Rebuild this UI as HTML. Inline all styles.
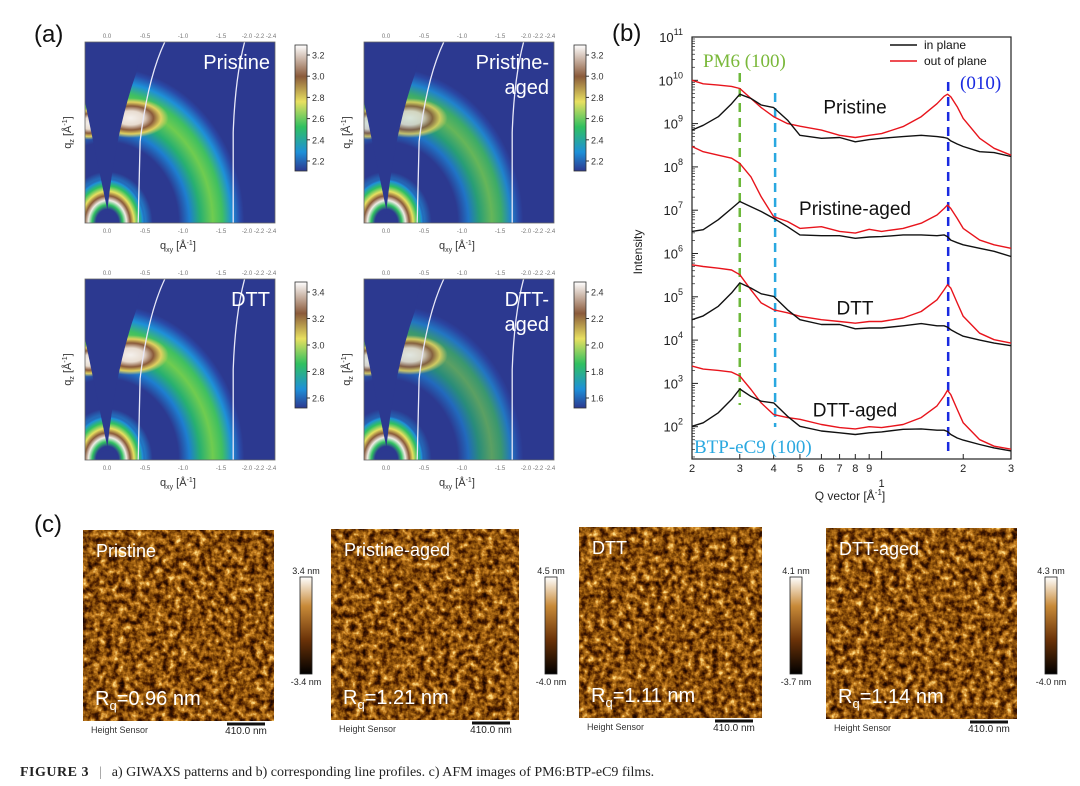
<!DOCTYPE html>
<html><head><meta charset="utf-8"><style>
html,body{margin:0;padding:0;background:#fff;width:1080px;height:786px;overflow:hidden}
svg{display:block;font-family:"Liberation Sans",sans-serif}
</style></head><body>
<svg id="fig" width="1080" height="786" viewBox="0 0 1080 786" xmlns="http://www.w3.org/2000/svg">
<defs>
<radialGradient id="ringGrad" cx="0.5" cy="0.5" r="0.5">
<stop offset="0" stop-color="#f0ece6"/><stop offset="0.08" stop-color="#8a5a3a"/><stop offset="0.13" stop-color="#e8e060"/>
<stop offset="0.19" stop-color="#30c060"/><stop offset="0.26" stop-color="#1e90d8"/><stop offset="0.33" stop-color="#2c3990"/>
<stop offset="0.52" stop-color="#2c3990"/><stop offset="0.6" stop-color="#1e7ed0"/><stop offset="0.68" stop-color="#28b070"/>
<stop offset="0.77" stop-color="#70cc50"/><stop offset="0.84" stop-color="#40c060"/><stop offset="0.91" stop-color="#1e90d8"/>
<stop offset="0.97" stop-color="#2a4aa8"/><stop offset="1" stop-color="#2c3990"/>
</radialGradient>
<radialGradient id="originGrad" cx="0.5" cy="0.5" r="0.5">
<stop offset="0" stop-color="#2c3990"/><stop offset="0.3" stop-color="#2c3990"/><stop offset="0.4" stop-color="#30c060"/>
<stop offset="0.5" stop-color="#f0ece6"/><stop offset="0.6" stop-color="#8a5a3a"/><stop offset="0.7" stop-color="#e8e060"/>
<stop offset="0.82" stop-color="#30c060"/><stop offset="0.93" stop-color="#1e90d8"/><stop offset="1" stop-color="#2c3990" stop-opacity="0"/>
</radialGradient>
<radialGradient id="hotGrad" cx="0.5" cy="0.5" r="0.5">
<stop offset="0" stop-color="#f4f0ec"/><stop offset="0.35" stop-color="#e8dcd0"/><stop offset="0.6" stop-color="#8a5a3a"/>
<stop offset="0.8" stop-color="#e0d060"/><stop offset="1" stop-color="#e0d060" stop-opacity="0"/>
</radialGradient>
<linearGradient id="cbGiwaxs" x1="0" y1="1" x2="0" y2="0">
<stop offset="0" stop-color="#2c3990"/><stop offset="0.15" stop-color="#1e90d8"/><stop offset="0.35" stop-color="#30c060"/>
<stop offset="0.55" stop-color="#e8e060"/><stop offset="0.75" stop-color="#8a5a3a"/><stop offset="1" stop-color="#ffffff"/>
</linearGradient>
<linearGradient id="cbAfm" x1="0" y1="1" x2="0" y2="0">
<stop offset="0" stop-color="#000"/><stop offset="0.35" stop-color="#6a3208"/><stop offset="0.7" stop-color="#c88a38"/><stop offset="1" stop-color="#fff"/>
</linearGradient>
<filter id="afmTex" x="0" y="0" width="100%" height="100%" color-interpolation-filters="sRGB">
<feTurbulence type="fractalNoise" baseFrequency="0.16" numOctaves="3" seed="3"/>
<feColorMatrix type="matrix" values="1 0 0 0 0  1 0 0 0 0  1 0 0 0 0  0 0 0 0 1"/>
<feComponentTransfer>
<feFuncR type="table" tableValues="0.1 0.1 0.3 0.55 0.8 1 1"/>
<feFuncG type="table" tableValues="0.02 0.02 0.12 0.32 0.52 0.85 0.9"/>
<feFuncB type="table" tableValues="0 0 0 0.04 0.14 0.5 0.6"/>
<feFuncA type="table" tableValues="1 1"/>
</feComponentTransfer>
</filter>
</defs>
<g id="panelA"></g>
<g id="panelB"></g>
<g id="panelC"></g>
<text x="20" y="776" font-family="Liberation Serif,serif" font-size="14" fill="#222"><tspan font-weight="bold" letter-spacing="0.5">FIGURE 3</tspan><tspan dx="10" fill="#888">|</tspan><tspan dx="10">a) GIWAXS patterns and b) corresponding line profiles. c) AFM images of PM6:BTP-eC9 films.</tspan></text>
</svg>
<script>
// ---- Panel b data ----
const qValues = [0.2,0.22,0.25,0.28,0.3,0.33,0.36,0.4,0.45,0.5,0.6,0.7,0.8,0.9,1.0,1.2,1.4,1.6,1.7,1.75,1.8,1.9,2.0,2.3,2.6,3.0];
const pristineIn = [8.85,8.96,9.16,9.46,9.68,9.58,9.43,9.37,9.08,8.73,8.66,8.68,8.58,8.63,8.66,8.70,8.73,8.70,8.68,8.66,8.60,8.53,8.47,8.35,8.33,8.24];
const pristineOut = [10.0,9.92,9.89,9.86,9.81,9.58,9.37,9.16,9.0,8.94,8.85,8.73,8.68,8.73,8.77,8.93,9.16,9.46,9.63,9.68,9.62,9.39,9.12,8.66,8.43,8.27];
const agedIn = [6.51,6.55,6.78,7.04,7.2,7.08,6.97,6.81,6.62,6.43,6.41,6.41,6.35,6.38,6.39,6.43,6.43,6.41,6.43,6.39,6.31,6.25,6.20,6.12,6.05,5.93];
const agedOut = [8.47,8.35,8.27,8.20,8.08,7.77,7.31,6.85,6.74,6.58,6.62,6.51,6.47,6.56,6.51,6.58,6.70,6.89,7.04,7.12,7.04,6.81,6.58,6.31,6.20,6.12];
const dttIn = [4.47,4.56,4.78,5.09,5.32,5.2,5.07,5.01,4.70,4.47,4.36,4.36,4.26,4.28,4.28,4.33,4.38,4.33,4.33,4.30,4.24,4.16,4.09,4.0,3.93,3.87];
const dttOut = [5.74,5.70,5.66,5.62,5.51,5.16,4.86,4.70,4.63,4.55,4.47,4.43,4.39,4.43,4.43,4.51,4.66,4.93,5.16,5.28,5.20,4.86,4.55,4.16,4.01,3.93];
const dttAgedIn = [2.01,2.09,2.32,2.63,2.87,2.70,2.59,2.55,2.24,2.01,1.90,1.86,1.82,1.86,1.88,1.94,1.95,1.92,1.92,1.89,1.82,1.74,1.69,1.59,1.51,1.44];
const dttAgedOut = [3.40,3.33,3.30,3.26,3.17,2.86,2.55,2.28,2.21,2.17,2.05,1.98,1.95,2.0,1.98,2.05,2.21,2.48,2.71,2.84,2.74,2.40,2.09,1.70,1.55,1.48];
const yDecades = [2,3,4,5,6,7,8,9,10,11];
const xTickValues = [0.2,0.3,0.4,0.5,0.6,0.7,0.8,0.9,2,3];
const xTickLabels = ["2","3","4","5","6","7","8","9","2","3"];
const refLines = [0.3,0.405,1.76];
const sampleLabels = ["Pristine","Pristine-aged","DTT","DTT-aged"];
const sampleLabelLevels = [9.4,7.05,4.75,2.4];

const NS="http://www.w3.org/2000/svg";
function mk(tag,attrs,parent,text){const e=document.createElementNS(NS,tag);for(const k in attrs)e.setAttribute(k,attrs[k]);if(text!==undefined)e.textContent=text;parent.appendChild(e);return e;}

const PX0=692,PX1=1011,PY_TOP=37,PY_BOT=459;
const xs=q=>PX0+(Math.log10(q)-Math.log10(0.2))/(Math.log10(3)-Math.log10(0.2))*(PX1-PX0);
const ys=v=>37+(11-v)*43.3;

const B=document.getElementById('panelB');
let t=mk('text',{x:612,y:41,'font-size':24,fill:'#111'},B,'(b)');


const frame=mk('rect',{x:PX0,y:PY_TOP,width:PX1-PX0,height:PY_BOT-PY_TOP,fill:'none',stroke:'#222','stroke-width':1.2},B);


yDecades.forEach(d=>{
  const y=ys(d);
  const tk=mk('line',{x1:PX0,x2:PX0+6,y1:y,y2:y,stroke:'#222'},B);
  
  
  for(let m=2;m<=9;m++){const ym=ys(d-1+Math.log10(m));if(ym<=PY_BOT)mk('line',{x1:PX0,x2:PX0+3,y1:ym,y2:ym,stroke:'#222','stroke-width':0.7},B);}
  const lb=mk('text',{x:683,y:y+5,'text-anchor':'end','font-size':13,fill:'#222'},B);
  
  
  mk('tspan',{},lb,'10');mk('tspan',{dy:-7,'font-size':9},lb,String(d));
});
const yt=mk('text',{x:0,y:0,transform:'translate(642,252) rotate(-90)','text-anchor':'middle','font-size':12,fill:'#222'},B,'Intensity');


xTickValues.forEach((q,i)=>{
  const x=xs(q);
  const tk=mk('line',{x1:x,x2:x,y1:PY_BOT,y2:PY_BOT-5,stroke:'#222'},B);
  
  
  const lb=mk('text',{x:x,y:PY_BOT+13,'text-anchor':'middle','font-size':11,fill:'#222'},B,xTickLabels[i]);
  
  
});
mk('line',{x1:xs(1),x2:xs(1),y1:PY_BOT,y2:PY_BOT-8,stroke:'#222'},B);
const one=mk('text',{x:xs(1),y:PY_BOT+28,'text-anchor':'middle','font-size':11,fill:'#222'},B,'1');


const xt=mk('text',{x:850,y:500,'text-anchor':'middle','font-size':12,fill:'#222'},B);


mk('tspan',{},xt,'Q vector [Å');mk('tspan',{dy:-5,'font-size':8},xt,'-1');mk('tspan',{dy:5},xt,']');

const refColors=['#6cb83a','#2aa8e0','#1a2ae0'];
const refY=[[73,405],[93,427],[82,453]];
const refNames=['pm6-100-line','btp-ec9-100-line','pi-stacking-010-line'];
refLines.forEach((q,i)=>{
  const l=mk('line',{x1:xs(q),x2:xs(q),y1:refY[i][0],y2:refY[i][1],stroke:refColors[i],'stroke-width':2.5,'stroke-dasharray':'9 6'},B);
  
  
});
const series=[[pristineOut,'#e8141c'],[pristineIn,'#111'],[agedOut,'#e8141c'],[agedIn,'#111'],[dttOut,'#e8141c'],[dttIn,'#111'],[dttAgedOut,'#e8141c'],[dttAgedIn,'#111']];
const seriesNames=['pristine-out-of-plane','pristine-in-plane','pristine-aged-out-of-plane','pristine-aged-in-plane','dtt-out-of-plane','dtt-in-plane','dtt-aged-out-of-plane','dtt-aged-in-plane'];
series.forEach(([vals,col],i)=>{
  let d='';
  vals.forEach((v,j)=>{d+=(j?'L':'M')+xs(qValues[j]).toFixed(1)+' '+ys(v).toFixed(1);});
  const p=mk('path',{d:d,fill:'none',stroke:col,'stroke-width':1.4,'stroke-linejoin':'round'},B);
  
  
});
sampleLabels.forEach((s,i)=>{
  const lb=mk('text',{x:855,y:ys(sampleLabelLevels[i])+7,'text-anchor':'middle','font-size':19,fill:'#111'},B,s);
  
  
});
const a1=mk('text',{x:703,y:67,'font-family':'Liberation Serif,serif','font-size':19,fill:'#7ab83a'},B,'PM6 (100)');


const a2=mk('text',{x:960,y:89,'font-family':'Liberation Serif,serif','font-size':19,fill:'#1a2ae0'},B,'(010)');


const a3=mk('text',{x:694,y:453,'font-family':'Liberation Serif,serif','font-size':19,fill:'#2aa8e0'},B,'BTP-eC9 (100)');


const lg=mk('g',{},B);


mk('line',{x1:890,x2:917,y1:45,y2:45,stroke:'#111','stroke-width':1.5},lg);
mk('text',{x:924,y:49,'font-size':12,fill:'#111'},lg,'in plane');
mk('line',{x1:890,x2:917,y1:61,y2:61,stroke:'#e8141c','stroke-width':1.5},lg);
mk('text',{x:924,y:65,'font-size':12,fill:'#111'},lg,'out of plane');

// ---- Panel a ----
const A=document.getElementById('panelA');
let ta=mk('text',{x:34,y:42,'font-size':24,fill:'#111'},A,'(a)');


const giwaxsPanels=[
 {x:85,y:42,lab:['Pristine'],cb:['3.2','3.0','2.8','2.6','2.4','2.2'],cx:295,cy:45,hot:1,ring:1},
 {x:364,y:42,lab:['Pristine-','aged'],cb:['3.2','3.0','2.8','2.6','2.4','2.2'],cx:574,cy:45,hot:0.85,ring:0.85},
 {x:85,y:279,lab:['DTT'],cb:['3.4','3.2','3.0','2.8','2.6'],cx:295,cy:282,hot:1,ring:1},
 {x:364,y:279,lab:['DTT-','aged'],cb:['2.4','2.2','2.0','1.8','1.6'],cx:574,cy:282,hot:0.9,ring:0.7}];
giwaxsPanels.forEach((p,i)=>{
  const w=190,h=181;
  const g=mk('g',{},A);
  
  
  const cp=mk('clipPath',{id:'gc'+i},g);
  mk('rect',{x:p.x,y:p.y,width:w,height:h},cp);
  const c=mk('g',{'clip-path':'url(#gc'+i+')'},g);
  mk('rect',{x:p.x,y:p.y,width:w,height:h,fill:'#2c3990'},c);
  const ox=p.x+0.118*w,oy=p.y+h;
  mk('ellipse',{cx:ox,cy:oy,rx:0.72*w,ry:0.86*h,fill:'url(#ringGrad)',opacity:p.ring},c);
  mk('ellipse',{cx:ox,cy:oy,rx:0.2*w,ry:0.25*h,fill:'url(#originGrad)'},c);
  mk('ellipse',{cx:p.x+0.24*w,cy:p.y+0.42*h,rx:0.2*w,ry:0.11*h,fill:'url(#hotGrad)',opacity:p.hot},c);
  mk('ellipse',{cx:p.x+0.02*w,cy:p.y+0.45*h,rx:0.1*w,ry:0.09*h,fill:'url(#hotGrad)',opacity:p.hot},c);
  mk('path',{d:`M${ox} ${p.y+0.93*h} L${p.x} ${p.y+0.33*h} L${p.x} ${p.y} L${p.x+0.3*w} ${p.y} L${p.x+0.27*w} ${p.y+0.17*h} Q${p.x+0.16*w} ${p.y+0.5*h} ${ox} ${p.y+0.93*h}Z`,fill:'#2c3990'},c);
  mk('ellipse',{cx:ox,cy:oy-2,rx:0.055*w,ry:0.04*h,fill:'#2c3990'},c);
  mk('path',{d:`M${p.x+0.28*w} ${oy} L${p.x+0.29*w} ${p.y+0.55*h} Q${p.x+0.33*w} ${p.y+0.2*h} ${p.x+0.42*w} ${p.y}`,fill:'none',stroke:'#e8e8f8','stroke-width':1.3},c);
  mk('path',{d:`M${p.x+0.78*w} ${oy} L${p.x+0.78*w} ${p.y+0.5*h} Q${p.x+0.79*w} ${p.y+0.2*h} ${p.x+0.84*w} ${p.y}`,fill:'none',stroke:'#e8e8f8','stroke-width':1.3},c);
  mk('rect',{x:p.x,y:p.y,width:w,height:h,fill:'none',stroke:'#666','stroke-width':0.8},g);
  p.lab.forEach((s,k)=>{const tt=mk('text',{x:p.x+w-5,y:p.y+27+k*25,'text-anchor':'end','font-size':20,fill:'#fff'},g,s);
    
    });
  ['0.0','-0.5','-1.0','-1.5','-2.0 -2.2 -2.4'].forEach((s,k)=>{
    mk('text',{x:p.x+22+k*38,y:p.y+h+10,'font-size':6,fill:'#777','text-anchor':'middle'},g,s);
    mk('text',{x:p.x+22+k*38,y:p.y-4,'font-size':6,fill:'#777','text-anchor':'middle'},g,s);
  });
  const xl=mk('text',{x:p.x+w/2-20,y:p.y+h+26,'font-size':11,fill:'#333'},g);
  
  
  mk('tspan',{},xl,'q');mk('tspan',{dy:3,'font-size':7},xl,'xy');mk('tspan',{dy:-3},xl,' [Å');mk('tspan',{dy:-4,'font-size':7},xl,'-1');mk('tspan',{dy:4},xl,']');
  const yl=mk('text',{x:0,y:0,transform:`translate(${p.x-14},${p.y+h/2}) rotate(-90)`,'text-anchor':'middle','font-size':11,fill:'#333'},g);
  
  
  mk('tspan',{},yl,'q');mk('tspan',{dy:3,'font-size':7},yl,'z');mk('tspan',{dy:-3},yl,' [Å');mk('tspan',{dy:-4,'font-size':7},yl,'-1');mk('tspan',{dy:4},yl,']');
  const cb=mk('rect',{x:p.cx,y:p.cy,width:12,height:126,fill:'url(#cbGiwaxs)',stroke:'#333','stroke-width':0.8},g);
  
  
  p.cb.forEach((s,k)=>{const yy=p.cy+10+k*(106/(p.cb.length-1));
    mk('line',{x1:p.cx+12,x2:p.cx+15,y1:yy,y2:yy,stroke:'#333'},g);
    mk('text',{x:p.cx+17,y:yy+3.5,'font-size':9,fill:'#333'},g,s);});
});

// ---- Panel c ----
const C=document.getElementById('panelC');
let tc=mk('text',{x:34,y:532,'font-size':24,fill:'#111'},C,'(c)');


const afm=[
 {x:83,y:530,w:191,lab:'Pristine',rq:'=0.96 nm',top:'3.4 nm',bot:'-3.4 nm',cx:300},
 {x:331,y:529,w:188,lab:'Pristine-aged',rq:'=1.21 nm',top:'4.5 nm',bot:'-4.0 nm',cx:545},
 {x:579,y:527,w:183,lab:'DTT',rq:'=1.11 nm',top:'4.1 nm',bot:'-3.7 nm',cx:790},
 {x:826,y:528,w:191,lab:'DTT-aged',rq:'=1.14 nm',top:'4.3 nm',bot:'-4.0 nm',cx:1045}];
afm.forEach((a,i)=>{
  const g=mk('g',{},C);
  
  
  const h=191;
  mk('rect',{x:a.x,y:a.y,width:a.w,height:h,fill:'#8a4f10'},g);
  mk('rect',{x:a.x,y:a.y,width:a.w,height:h,filter:'url(#afmTex)'},g);
  const l=mk('text',{x:a.x+13,y:a.y+27,'font-size':18,fill:'#fff'},g,a.lab);
  
  
  const r=mk('text',{x:a.x+12,y:a.y+175,'font-size':20,fill:'#fff'},g);
  
  
  mk('tspan',{},r,'R');mk('tspan',{dy:5,'font-size':13},r,'q');mk('tspan',{dy:-5},r,a.rq);
  mk('text',{x:a.x+8,y:a.y+h+12,'font-size':9,fill:'#333'},g,'Height Sensor');
  const sb=mk('line',{x1:a.x+a.w-47,x2:a.x+a.w-9,y1:a.y+h+3,y2:a.y+h+3,stroke:'#111','stroke-width':3},g);
  
  
  mk('text',{x:a.x+a.w-28,y:a.y+h+13,'font-size':10,fill:'#222','text-anchor':'middle'},g,'410.0 nm');
  const cb=mk('rect',{x:a.cx,y:577,width:12,height:97,fill:'url(#cbAfm)',stroke:'#222','stroke-width':0.8},g);
  
  
  mk('text',{x:a.cx+6,y:574,'font-size':9,fill:'#222','text-anchor':'middle'},g,a.top);
  mk('text',{x:a.cx+6,y:685,'font-size':9,fill:'#222','text-anchor':'middle'},g,a.bot);
});
</script>
</body></html>
